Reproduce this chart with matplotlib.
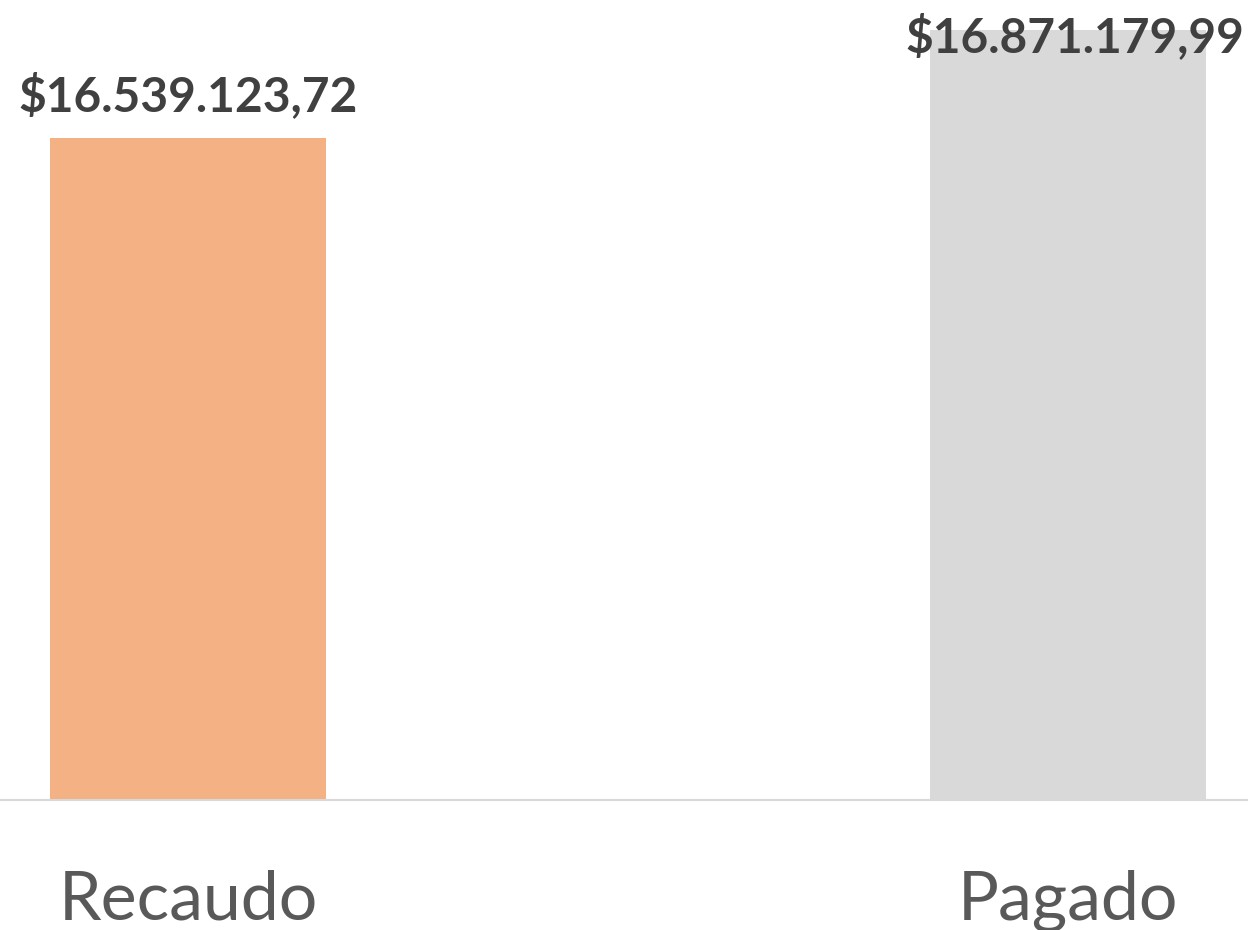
import matplotlib
matplotlib.use("Agg")
import matplotlib.pyplot as plt

categories = ["Recaudo", "Pagado"]
values = [16539123.72, 16871179.99]
bar_colors = ["#F4B183", "#D9D9D9"]


def money(v):
	# formato colombiano: punto para miles, coma para decimales
	s = "{:,.2f}".format(v)
	s = s.replace(",", "X").replace(".", ",").replace("X", ".")
	return "$" + s


fig = plt.figure(figsize=(12.48, 9.3), dpi=100)
ax = fig.add_axes([0, 130 / 930, 1, 800 / 930])

x = list(range(len(categories)))
ax.bar(x, values, width=0.3136, color=bar_colors, zorder=2)

ax.set_xlim(-0.2136, 1.2045)
ax.set_ylim(14.5e6, 16.963e6)

# etiquetas de valor
offsets = [(0, 19), (5, -16)]
for xi, v, off in zip(x, values, offsets):
	ax.annotate(money(v), (xi, v), xytext=off, textcoords="offset points",
		ha="center", va="baseline", fontsize=34.5, fontweight="bold",
		family="Lato", color="#404040", annotation_clip=False)

for s in ["top", "right", "left"]:
	ax.spines[s].set_visible(False)
ax.spines["bottom"].set_color("#D9D9D9")
ax.spines["bottom"].set_linewidth(1.5)

ax.set_yticks([])
ax.set_xticks(x)
ax.set_xticklabels(categories, fontsize=49, family="Lato", color="#595959")
ax.tick_params(axis="x", length=0, pad=50)

fig.savefig("out.png", dpi=100)
